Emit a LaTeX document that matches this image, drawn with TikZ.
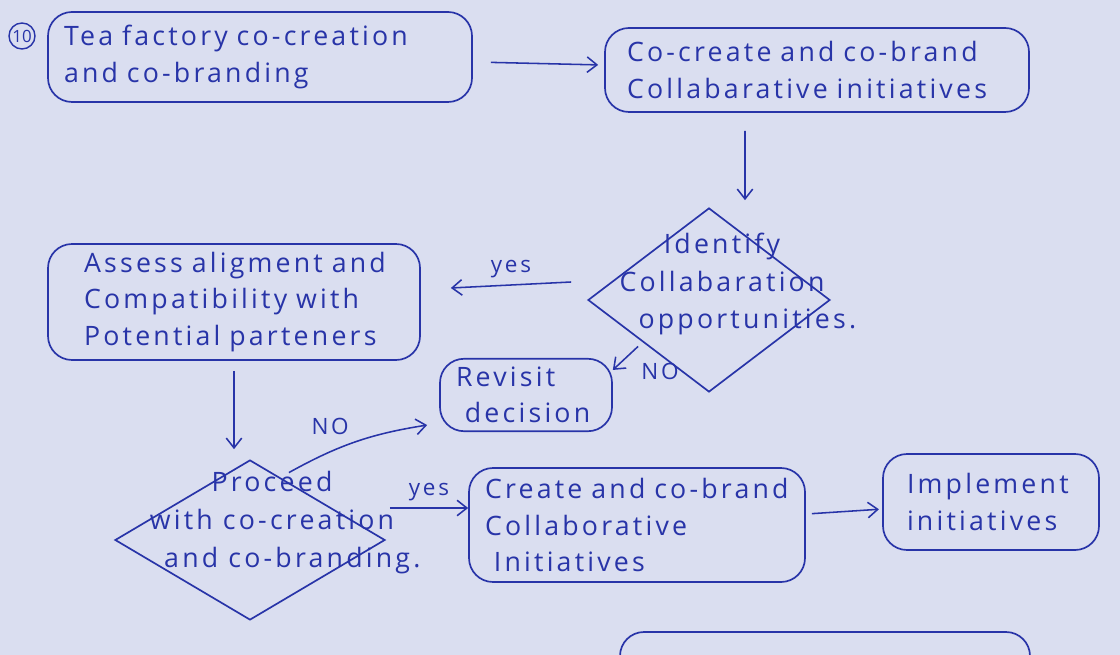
\documentclass[tikz,border=0pt]{standalone}
\usepackage{fontspec}
\setmainfont{Open Sans}
\newfontfamily\handfont{Open Sans}[LetterSpace=12]
\usepackage{tikz}
\usetikzlibrary{arrows.meta,shapes.geometric,positioning}
\usepackage{xcolor}
\definecolor{inkblue}{RGB}{40,52,168}
\definecolor{paper}{RGB}{218,222,240}
\tikzstyle{arrow} = [line width=1.1pt,-{Straight Barb[length=7pt,width=11pt]},color=inkblue]
\tikzstyle{penbox} = [rectangle, rounded corners=0.6cm, draw=inkblue, line width=1.2pt, text=inkblue, align=left, inner xsep=0.4cm, inner ysep=0.2cm, font=\handfont\fontsize{19}{26}\selectfont]
\tikzstyle{decision} = [diamond, draw=inkblue, line width=1.2pt, inner sep=0pt]
\tikzstyle{pentext} = [text=inkblue, align=center, font=\handfont\fontsize{19}{27}\selectfont]
\tikzstyle{answer} = [text=inkblue, font=\handfont\fontsize{16}{18}\selectfont]

\begin{document}
\begin{tikzpicture}
    % Paper
    \fill[paper] (0,0) rectangle (28,-16.375);
    \useasboundingbox (0,0) rectangle (28,-16.375);
    \clip (0,0) rectangle (28,-16.375);

    % Step number
    \node[circle, draw=inkblue, line width=1pt, inner sep=0pt, minimum size=0.65cm, text=inkblue, font=\fontsize{12}{12}\selectfont] (num) at (0.55,-0.9) {10};

    % Top row
    \node[penbox, text width=9.8cm, minimum height=2.25cm] (start) at (6.5,-1.425) {Tea factory co-creation\\and co-branding};
    \node[penbox, text width=9.8cm, minimum height=2.1cm, inner xsep=0.55cm, text width=9.5cm] (cocreate) at (20.425,-1.75) {Co-create and co-brand\\Collabarative initiatives};

    % First decision
    \node[decision, minimum width=6.05cm, minimum height=4.6cm] (identify) at (17.725,-7.5) {};
    \node[pentext] (identifytext) at (18.05,-7.1) {Identify\\Collabaration\\\ \ \ \ \ opportunities.};
    \node[penbox, inner xsep=0.9cm, text width=7.5cm, minimum height=2.9cm] (assess) at (5.85,-7.55) {Assess aligment and\\Compatibility with\\Potential parteners};
    \node[penbox, text width=3.5cm, minimum height=1.6cm] (revisit) at (13.15,-9.875) {Revisit\\\ decision};

    % Second decision
    \node[decision, minimum width=6.75cm, minimum height=4cm] (proceed) at (6.25,-13.5) {};
    \node[pentext] (proceedtext) at (6.8,-13.075) {Proceed\\with co-creation\\\ \ \ \ and co-branding.};
    \node[penbox, text width=7.6cm, minimum height=2.85cm] (create) at (15.925,-13.125) {Create and co-brand\\Collaborative\\\ Initiatives};
    \node[penbox, inner xsep=0.6cm, text width=4.2cm, minimum height=2.4cm] (implement) at (24.775,-12.55) {Implement\\initiatives};

    % Next step (cut off)
    \node[penbox, text width=9.45cm, minimum height=2.2cm] (nextstep) at (20.625,-16.9) {};

    % Connections
    \draw[arrow, shorten <=0.45cm, shorten >=0.15cm] (start) -- (cocreate);
    \draw[arrow] ([xshift=-1.8cm,yshift=-0.45cm]cocreate.south) -- ([xshift=0.9cm,yshift=0.175cm]identify.north);
    \draw[arrow] ([xshift=-0.4cm,yshift=0.45cm]identify.west) -- ([xshift=0.75cm,yshift=0.35cm]assess.east)
        node[answer, midway, above=0.05cm] {yes};
    \draw[arrow] ([xshift=-0.25cm]identify.south west) -- ([yshift=-0.3cm]revisit.north east)
        node[answer, pos=0.4, right=0.2cm, yshift=-0.4cm] {NO};
    \draw[arrow] ([yshift=-0.25cm]assess.south) -- ([yshift=0.25cm]assess.south |- proceed.north);
    \draw[arrow] ([xshift=-0.725cm,yshift=0.675cm]proceed.north east) to[bend left=10]
        node[answer, pos=0.3, above=0.3cm] {NO} ([xshift=-0.3cm,yshift=0.175cm]revisit.south west);
    \draw[arrow] ([xshift=0.1cm,yshift=0.8cm]proceed.east) -- ([yshift=0.425cm]create.west)
        node[answer, midway, above=0.05cm] {yes};
    \draw[arrow, shorten <=0.15cm, shorten >=0.08cm] (create) -- (implement);
\end{tikzpicture}
\end{document}
